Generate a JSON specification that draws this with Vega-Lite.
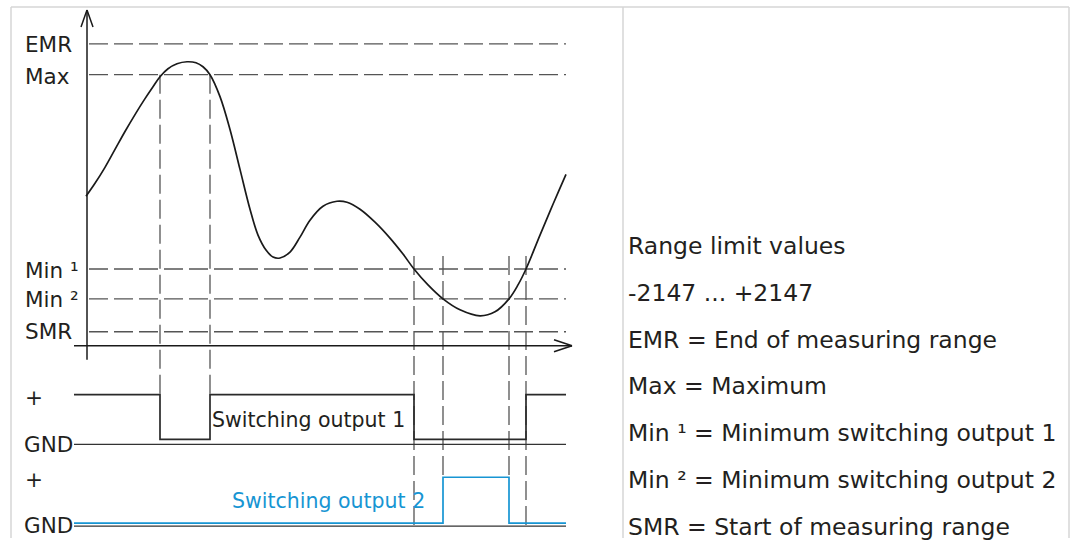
{
  "$schema": "https://vega.github.io/schema/vega-lite/v6.json",
  "width": 1077,
  "height": 540,
  "autosize": {"type": "fit", "contains": "padding"},
  "padding": 0,
  "background": "white",
  "config": {"view": {"stroke": null}},
  "datasets": {
    "border": [
      {"x": 11, "y": 7, "x2": 1069, "y2": 7},
      {"x": 11, "y": 7, "x2": 11, "y2": 540},
      {"x": 623, "y": 7, "x2": 623, "y2": 540},
      {"x": 1069, "y": 7, "x2": 1069, "y2": 540}
    ],
    "hdash": [
      {"level": "EMR", "x": 89, "x2": 566, "y": 44},
      {"level": "Max", "x": 89, "x2": 566, "y": 75},
      {"level": "Min1", "x": 89, "x2": 566, "y": 270},
      {"level": "Min2", "x": 89, "x2": 566, "y": 300},
      {"level": "SMR", "x": 89, "x2": 566, "y": 333}
    ],
    "vdash": [
      {"x": 160, "y": 75, "y2": 396},
      {"x": 210, "y": 75, "y2": 396},
      {"x": 414, "y": 257, "y2": 530},
      {"x": 443, "y": 257, "y2": 479},
      {"x": 509, "y": 257, "y2": 479},
      {"x": 526, "y": 257, "y2": 530}
    ],
    "axes": [
      {"x": 87, "y": 10, "x2": 87, "y2": 361},
      {"x": 74, "y": 347, "x2": 572, "y2": 347},
      {"x": 81, "y": 27, "x2": 87, "y2": 10},
      {"x": 93, "y": 27, "x2": 87, "y2": 10},
      {"x": 554, "y": 341, "x2": 572, "y2": 347},
      {"x": 554, "y": 353, "x2": 572, "y2": 347}
    ],
    "gnd": [
      {"x": 74, "x2": 566, "y": 446},
      {"x": 74, "x2": 566, "y": 528}
    ],
    "curve": [
      {"x": 86, "y": 197}, {"x": 95, "y": 184}, {"x": 105, "y": 168}, {"x": 115, "y": 150},
      {"x": 125, "y": 132}, {"x": 135, "y": 115}, {"x": 145, "y": 99}, {"x": 153, "y": 87},
      {"x": 160, "y": 77}, {"x": 168, "y": 69}, {"x": 177, "y": 64}, {"x": 187, "y": 62},
      {"x": 196, "y": 63}, {"x": 203, "y": 67}, {"x": 210, "y": 75}, {"x": 220, "y": 97},
      {"x": 230, "y": 130}, {"x": 240, "y": 170}, {"x": 250, "y": 210}, {"x": 258, "y": 236},
      {"x": 266, "y": 251}, {"x": 273, "y": 258}, {"x": 280, "y": 259}, {"x": 290, "y": 253},
      {"x": 300, "y": 238}, {"x": 310, "y": 221}, {"x": 323, "y": 207}, {"x": 337, "y": 202},
      {"x": 347, "y": 203}, {"x": 360, "y": 210}, {"x": 375, "y": 223}, {"x": 390, "y": 239},
      {"x": 403, "y": 255}, {"x": 414, "y": 270}, {"x": 428, "y": 286}, {"x": 443, "y": 300},
      {"x": 460, "y": 311}, {"x": 480, "y": 317}, {"x": 495, "y": 313}, {"x": 509, "y": 300},
      {"x": 518, "y": 286}, {"x": 526, "y": 270}, {"x": 540, "y": 236}, {"x": 553, "y": 205},
      {"x": 566, "y": 175}
    ],
    "out1": [
      {"i": 1, "x": 74, "y": 396}, {"i": 2, "x": 160, "y": 396}, {"i": 3, "x": 160, "y": 441},
      {"i": 4, "x": 210, "y": 441}, {"i": 5, "x": 210, "y": 396}, {"i": 6, "x": 414, "y": 396},
      {"i": 7, "x": 414, "y": 441}, {"i": 8, "x": 526, "y": 441}, {"i": 9, "x": 526, "y": 396},
      {"i": 10, "x": 566, "y": 396}
    ],
    "out2": [
      {"i": 1, "x": 74, "y": 525}, {"i": 2, "x": 443, "y": 525}, {"i": 3, "x": 443, "y": 479},
      {"i": 4, "x": 509, "y": 479}, {"i": 5, "x": 509, "y": 525}, {"i": 6, "x": 566, "y": 525}
    ],
    "leftLabels": [
      {"label": "EMR", "x": 25, "y": 46},
      {"label": "Max", "x": 25, "y": 78},
      {"label": "Min ¹", "x": 25, "y": 273},
      {"label": "Min ²", "x": 25, "y": 302},
      {"label": "SMR", "x": 25, "y": 334},
      {"label": "+", "x": 25, "y": 400},
      {"label": "GND", "x": 24, "y": 448},
      {"label": "+", "x": 25, "y": 483},
      {"label": "GND", "x": 24, "y": 529}
    ],
    "sw1": [{"label": "Switching output 1", "x": 212, "y": 423}],
    "sw2": [{"label": "Switching output 2", "x": 232, "y": 504}],
    "legend": [
      {"label": "Range limit values", "x": 628, "y": 248},
      {"label": "-2147 ... +2147", "x": 628, "y": 295},
      {"label": "EMR = End of measuring range", "x": 628, "y": 342},
      {"label": "Max = Maximum", "x": 628, "y": 388},
      {"label": "Min ¹ = Minimum switching output 1", "x": 628, "y": 436},
      {"label": "Min ² = Minimum switching output 2", "x": 628, "y": 483},
      {"label": "SMR = Start of measuring range", "x": 628, "y": 530}
    ]
  },
  "layer": [
    {
      "data": {"name": "border"},
      "mark": {"type": "rule", "color": "#d6d6d6", "strokeWidth": 1.5},
      "encoding": {
        "x": {"field": "x", "type": "quantitative", "scale": {"domain": [0, 1077], "nice": false, "zero": false}, "axis": null},
        "y": {"field": "y", "type": "quantitative", "scale": {"domain": [0, 540], "reverse": true, "nice": false, "zero": false}, "axis": null},
        "x2": {"field": "x2"},
        "y2": {"field": "y2"}
      }
    },
    {
      "data": {"name": "hdash"},
      "mark": {"type": "rule", "color": "#555555", "strokeWidth": 1.3, "strokeDash": [19, 6]},
      "encoding": {
        "x": {"field": "x", "type": "quantitative", "axis": null},
        "x2": {"field": "x2"},
        "y": {"field": "y", "type": "quantitative", "axis": null}
      }
    },
    {
      "data": {"name": "vdash"},
      "mark": {"type": "rule", "color": "#555555", "strokeWidth": 1.3, "strokeDash": [19, 6]},
      "encoding": {
        "x": {"field": "x", "type": "quantitative", "axis": null},
        "y": {"field": "y", "type": "quantitative", "axis": null},
        "y2": {"field": "y2"}
      }
    },
    {
      "data": {"name": "gnd"},
      "mark": {"type": "rule", "color": "#333333", "strokeWidth": 1.2},
      "encoding": {
        "x": {"field": "x", "type": "quantitative", "axis": null},
        "x2": {"field": "x2"},
        "y": {"field": "y", "type": "quantitative", "axis": null}
      }
    },
    {
      "data": {"name": "axes"},
      "mark": {"type": "rule", "color": "#1a1a1a", "strokeWidth": 1.5},
      "encoding": {
        "x": {"field": "x", "type": "quantitative", "axis": null},
        "y": {"field": "y", "type": "quantitative", "axis": null},
        "x2": {"field": "x2"},
        "y2": {"field": "y2"}
      }
    },
    {
      "data": {"name": "curve"},
      "mark": {"type": "line", "color": "#1a1a1a", "strokeWidth": 1.7, "interpolate": "catmull-rom"},
      "encoding": {
        "x": {"field": "x", "type": "quantitative", "axis": null},
        "y": {"field": "y", "type": "quantitative", "axis": null}
      }
    },
    {
      "data": {"name": "out1"},
      "mark": {"type": "line", "color": "#2a2a2a", "strokeWidth": 1.7},
      "encoding": {
        "x": {"field": "x", "type": "quantitative", "axis": null},
        "y": {"field": "y", "type": "quantitative", "axis": null},
        "order": {"field": "i"}
      }
    },
    {
      "data": {"name": "out2"},
      "mark": {"type": "line", "color": "#1795d3", "strokeWidth": 1.7},
      "encoding": {
        "x": {"field": "x", "type": "quantitative", "axis": null},
        "y": {"field": "y", "type": "quantitative", "axis": null},
        "order": {"field": "i"}
      }
    },
    {
      "data": {"name": "leftLabels"},
      "mark": {"type": "text", "align": "left", "baseline": "middle", "font": "DejaVu Sans", "fontSize": 21.5, "color": "#231f20"},
      "encoding": {
        "x": {"field": "x", "type": "quantitative", "axis": null},
        "y": {"field": "y", "type": "quantitative", "axis": null},
        "text": {"field": "label"}
      }
    },
    {
      "data": {"name": "sw1"},
      "mark": {"type": "text", "align": "left", "baseline": "middle", "font": "DejaVu Sans", "fontSize": 20.5, "color": "#231f20"},
      "encoding": {
        "x": {"field": "x", "type": "quantitative", "axis": null},
        "y": {"field": "y", "type": "quantitative", "axis": null},
        "text": {"field": "label"}
      }
    },
    {
      "data": {"name": "sw2"},
      "mark": {"type": "text", "align": "left", "baseline": "middle", "font": "DejaVu Sans", "fontSize": 20.5, "color": "#1795d3"},
      "encoding": {
        "x": {"field": "x", "type": "quantitative", "axis": null},
        "y": {"field": "y", "type": "quantitative", "axis": null},
        "text": {"field": "label"}
      }
    },
    {
      "data": {"name": "legend"},
      "mark": {"type": "text", "align": "left", "baseline": "middle", "font": "DejaVu Sans", "fontSize": 23.5, "color": "#231f20"},
      "encoding": {
        "x": {"field": "x", "type": "quantitative", "axis": null},
        "y": {"field": "y", "type": "quantitative", "axis": null},
        "text": {"field": "label"}
      }
    }
  ]
}
